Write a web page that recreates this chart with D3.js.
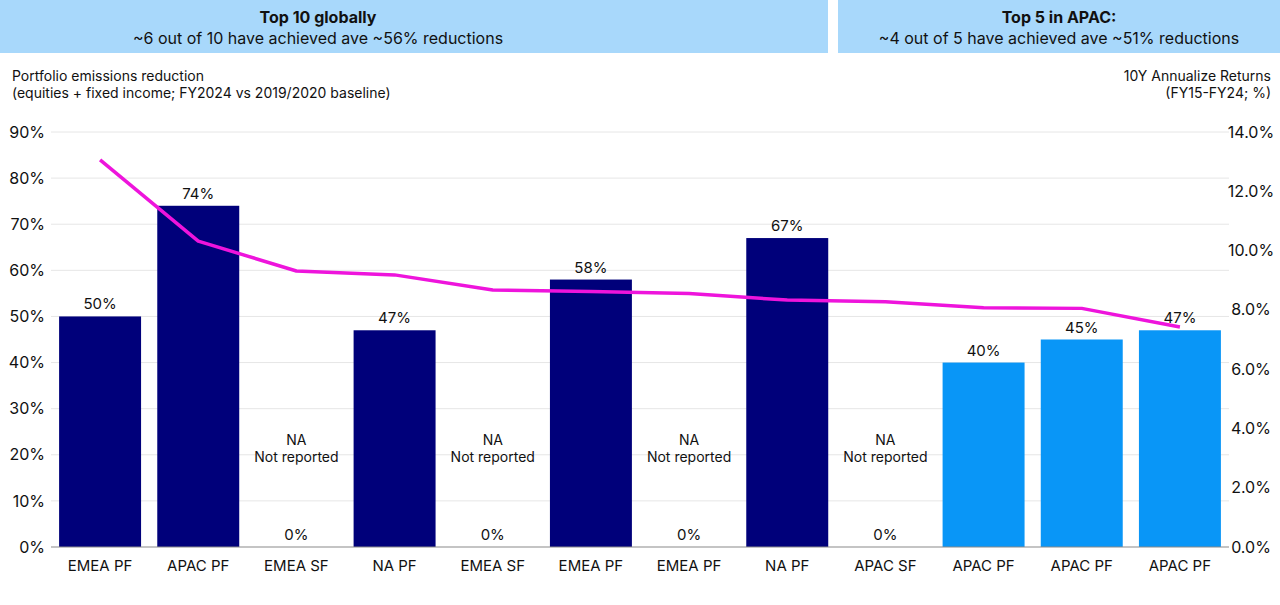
<!DOCTYPE html>
<html>
<head>
<meta charset="utf-8">
<script src="https://cdn.jsdelivr.net/npm/d3@7/dist/d3.min.js"></script>
<style>
  html, body { margin: 0; padding: 0; background: #fff; }
  svg { display: block; font-family: Inter, "Noto Sans", sans-serif; }
</style>
</head>
<body>
<svg id="chart" width="1280" height="605"></svg>
<script>
const categories = ["EMEA PF","APAC PF","EMEA SF","NA PF","EMEA SF","EMEA PF","EMEA PF","NA PF","APAC SF","APAC PF","APAC PF","APAC PF"];
const reductions = [50, 74, 0, 47, 0, 58, 0, 67, 0, 40, 45, 47];
const notReported = [false, false, true, false, true, false, true, false, true, false, false, false];
const groups = ["global","global","global","global","global","global","global","global","global","apac","apac","apac"];
const returns10y = [13.06, 10.32, 9.31, 9.18, 8.67, 8.62, 8.55, 8.33, 8.27, 8.07, 8.05, 7.42];
const leftTicks = [0,10,20,30,40,50,60,70,80,90];
const rightTicks = [0,2,4,6,8,10,12,14];
const headers = [
  {title: "Top 10 globally", sub: "~6 out of 10 have achieved ave ~56% reductions"},
  {title: "Top 5 in APAC:", sub: "~4 out of 5 have achieved ave ~51% reductions"}
];

const svg = d3.select("#chart");
const colors = {global: "#00007a", apac: "#0996f7"};
const lineColor = "#ee14dc";

// Header boxes: [x0, x1, text centre]
const hdrX = d3.scaleOrdinal().domain([0,1]).range([[0,828,318],[838,1280,1059]]);
headers.forEach((h,i) => {
  const [x0,x1,cx] = hdrX(i);
  svg.append("rect").attr("x", x0).attr("y", 0).attr("width", x1-x0).attr("height", 53).attr("fill", "#a8d8fb");
  svg.append("text").attr("x", cx).attr("y", 23).attr("text-anchor","middle")
    .attr("font-size", 16).attr("font-weight", 700).attr("fill","#111").text(h.title);
  svg.append("text").attr("x", cx).attr("y", 44).attr("text-anchor","middle")
    .attr("font-size", 16).attr("fill","#111").text(h.sub);
});

// Axis titles
svg.append("text").attr("x", 12).attr("y", 81).attr("font-size", 14).attr("fill","#111").text("Portfolio emissions reduction");
svg.append("text").attr("x", 12).attr("y", 98).attr("font-size", 14).attr("fill","#111").text("(equities + fixed income; FY2024 vs 2019/2020 baseline)");
svg.append("text").attr("x", 1271).attr("y", 81).attr("text-anchor","end").attr("font-size", 14).attr("fill","#111").text("10Y Annualize Returns");
svg.append("text").attr("x", 1271).attr("y", 98).attr("text-anchor","end").attr("font-size", 14).attr("fill","#111").text("(FY15-FY24; %)");

const x = d3.scaleBand().domain(d3.range(categories.length)).range([51, 1229]).paddingInner(0.165).paddingOuter(0.0825);
const y = d3.scaleLinear().domain([0, 90]).range([547, 132]);
const y2 = d3.scaleLinear().domain([0, 14]).range([547, 132]);

// gridlines
svg.append("g").selectAll("line").data(leftTicks.filter(d => d > 0)).join("line")
  .attr("x1", 51).attr("x2", 1229).attr("y1", d => y(d)).attr("y2", d => y(d))
  .attr("stroke", "#e6e6e6").attr("stroke-width", 1);

// left axis
const yAxis = d3.axisLeft(y).tickValues(leftTicks).tickFormat(d => d + "%").tickSize(0).tickPadding(0);
const gL = svg.append("g").attr("transform", "translate(45,0)").call(yAxis);
gL.select(".domain").remove();
gL.selectAll("text").attr("font-size", 16).attr("fill", "#111").attr("font-family", "Inter, sans-serif");

// right axis
const yAxis2 = d3.axisRight(y2).tickValues(rightTicks).tickFormat(d => d3.format(".1f")(d) + "%").tickSize(0).tickPadding(0);
const gR = svg.append("g").attr("transform", "translate(1251,0)").call(yAxis2);
gR.select(".domain").remove();
gR.selectAll("text").attr("font-size", 16).attr("fill", "#111").attr("text-anchor", "middle").attr("font-family", "Inter, sans-serif");

// bars
svg.append("g").selectAll("rect").data(reductions).join("rect")
  .attr("x", (d,i) => x(i)).attr("width", x.bandwidth())
  .attr("y", d => y(d)).attr("height", d => y(0) - y(d))
  .attr("fill", (d,i) => colors[groups[i]]);

// baseline
svg.append("line").attr("x1", 51).attr("x2", 1229).attr("y1", y(0)).attr("y2", y(0)).attr("stroke", "#8a8a8a").attr("stroke-width", 1.2);

// value labels
svg.append("g").selectAll("text").data(reductions).join("text")
  .attr("x", (d,i) => x(i) + x.bandwidth()/2)
  .attr("y", d => y(d) - 7)
  .attr("text-anchor", "middle").attr("font-size", 15).attr("fill", "#111")
  .text(d => d + "%");

// NA labels
const naIdx = d3.range(categories.length).filter(i => notReported[i]);
const naG = svg.append("g").selectAll("g").data(naIdx).join("g");
naG.append("text").attr("x", i => x(i) + x.bandwidth()/2).attr("y", 445).attr("text-anchor","middle").attr("font-size", 14).attr("fill","#111").text("NA");
naG.append("text").attr("x", i => x(i) + x.bandwidth()/2).attr("y", 462).attr("text-anchor","middle").attr("font-size", 14).attr("fill","#111").text("Not reported");

// category labels
svg.append("g").selectAll("text").data(categories).join("text")
  .attr("x", (d,i) => x(i) + x.bandwidth()/2).attr("y", 571)
  .attr("text-anchor", "middle").attr("font-size", 15).attr("fill", "#111")
  .text(d => d);

// line
const line = d3.line().x((d,i) => x(i) + x.bandwidth()/2).y(d => y2(d));
svg.append("path").datum(returns10y).attr("d", line)
  .attr("fill", "none").attr("stroke", lineColor).attr("stroke-width", 3.5).attr("stroke-linejoin", "round");
</script>
</body>
</html>
